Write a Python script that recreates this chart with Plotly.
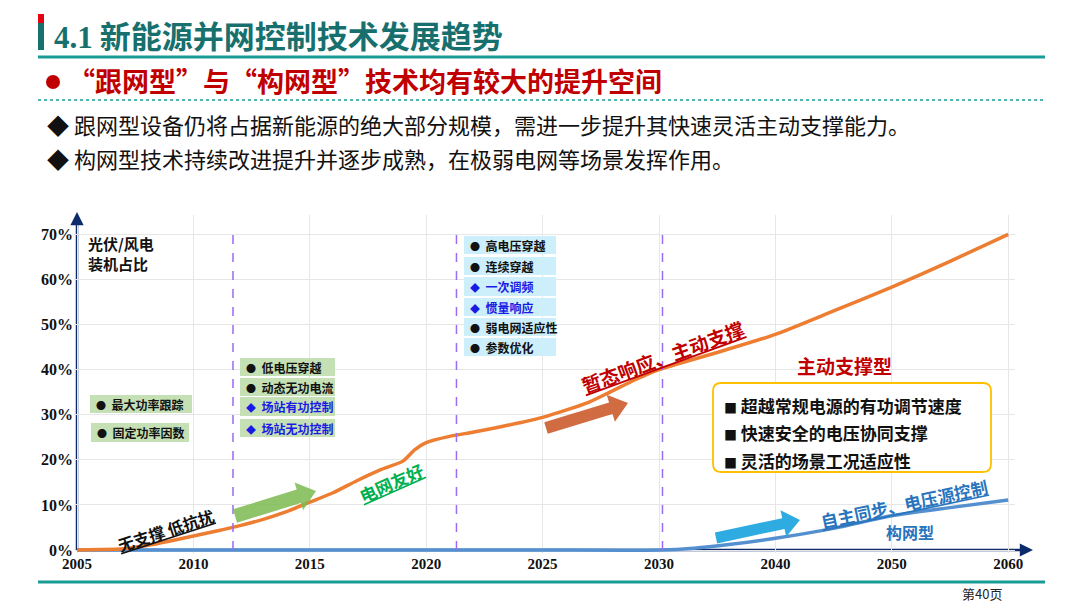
import plotly.graph_objects as go

# ---- data ----
x_years = [2005, 2010, 2015, 2020, 2025, 2030, 2040, 2050, 2060]
y_ticks = [0, 10, 20, 30, 40, 50, 60, 70]

# 主动支撑型 / 跟网型 share curve (orange)
orange_years = [2005, 2006, 2007, 2008, 2009, 2010, 2011, 2012, 2013, 2014, 2015,
                2016, 2017, 2018, 2019, 2019.5, 2020, 2021, 2022, 2023, 2024, 2025,
                2026, 2027, 2028, 2029, 2030, 2035, 2040, 2045, 2050, 2055, 2060]
orange_vals = [0, 0.1, 0.3, 1.0, 2.0, 3.1, 4.2, 5.4, 6.8, 8.5, 10.6,
               12.7, 15.3, 17.7, 19.7, 22.2, 23.8, 25.2, 26.1, 27.1, 28.2, 29.4,
               31.0, 32.8, 35.3, 37.8, 40.0, 43.8, 47.8, 53.0, 58.3, 64.0, 70.0]

# 构网型 curve (blue)
blue_years = [2005, 2010, 2015, 2020, 2025, 2030, 2033, 2036, 2040, 2045, 2050, 2055, 2060]
blue_vals = [0, 0, 0, 0, 0, 0, 0.4, 1.2, 2.6, 4.8, 7.6, 9.4, 11.1]

# stage boundaries (dashed purple lines)
era_bounds = [2011.7, 2021.3, 2030.3]

stage1_items = ["最大功率跟踪", "固定功率因数"]
stage2_items = ["低电压穿越", "动态无功电流", "场站有功控制", "场站无功控制"]
stage2_blue = [False, False, True, True]
stage3_items = ["高电压穿越", "连续穿越", "一次调频", "惯量响应", "弱电网适应性", "参数优化"]
stage3_blue = [False, False, True, True, False, False]
future_items = ["超越常规电源的有功调节速度", "快速安全的电压协同支撑", "灵活的场景工况适应性"]

bullet_lines = ["跟网型设备仍将占据新能源的绝大部分规模，需进一步提升其快速灵活主动支撑能力。",
                "构网型技术持续改进提升并逐步成熟，在极弱电网等场景发挥作用。"]


def yr_pos(year):
    # axis is 5-year steps until 2030, then 10-year steps
    if year <= 2030:
        return (year - 2005) / 5
    return 5 + (year - 2030) / 10


# pixel helpers for decorations
L, R, T, B = 74, 1015, 215, 553
X0, UX, Y0, UY = 77, 116.4, 550, 4.51


def dx(px):
    return (px - X0) / UX


def dy(py):
    return (Y0 - py) / UY


def px_paper(px, py):
    return (px - L) / (R - L), (B - py) / (B - T)


CJK = "Noto Sans CJK SC"
SERIF = "Liberation Serif"
NAVY = "#0d2a6b"

fig = go.Figure()

fig.add_trace(go.Scatter(x=[yr_pos(v) for v in blue_years], y=blue_vals, mode="lines",
                         line=dict(color="#5490d0", width=3.5, shape="spline", smoothing=0.6),
                         hoverinfo="skip"))
fig.add_trace(go.Scatter(x=[yr_pos(v) for v in orange_years], y=orange_vals, mode="lines",
                         line=dict(color="#ed7d31", width=3.5, shape="spline", smoothing=0.6),
                         hoverinfo="skip"))

shapes = []
ann = []


def pshape(kind, x0, y0, x1, y1, **kw):
    a, b = px_paper(x0, y0)
    c, d = px_paper(x1, y1)
    shapes.append(dict(type=kind, xref="paper", yref="paper", x0=a, y0=b, x1=c, y1=d, **kw))


def parrow(hx, hy, ax, ay):
    a, b = px_paper(hx, hy)
    ann.append(dict(x=a, y=b, xref="paper", yref="paper", ax=ax, ay=ay, text="", showarrow=True,
                    arrowhead=2, arrowsize=1.2, arrowwidth=2.2, arrowcolor=NAVY))


# axes lines with arrowheads
pshape("line", 77, 550, 1024, 550, line=dict(color=NAVY, width=2.5), layer="below")
pshape("line", 77, 550, 77, 222, line=dict(color=NAVY, width=2.5), layer="below")
parrow(1033, 550, -14, 0)
parrow(77, 212, 0, 14)

# dashed stage boundaries
for yb in era_bounds:
    shapes.append(dict(type="line", xref="x", yref="y", x0=yr_pos(yb), x1=yr_pos(yb),
                       y0=0, y1=70, line=dict(color="#9a6cf0", width=1.5, dash="dash")))


def item_box(x0, y0, x1, y1, text, blue, fill, size=12):
    shapes.append(dict(type="rect", xref="x", yref="y", x0=dx(x0), x1=dx(x1),
                       y0=dy(y1), y1=dy(y0), fillcolor=fill, line=dict(width=0)))
    mark = "◆" if blue else "●"
    col = "#1a1ae6" if blue else "#111111"
    ann.append(dict(x=dx(x0 + 4), y=dy((y0 + y1) / 2), xref="x", yref="y", xanchor="left",
                    yanchor="middle", showarrow=False,
                    text="<span style='font-size:10px'>" + mark + "</span>  <b>" + text + "</b>",
                    font=dict(family=CJK, size=size, color=col)))


GREEN_BOX = "#c5e0b4"
CYAN_BOX = "#cdeefb"
item_box(90, 395, 192, 413, stage1_items[0], False, GREEN_BOX)
item_box(91, 423, 189, 442, stage1_items[1], False, GREEN_BOX)
rows2 = [(358, 376), (378, 396), (397, 416), (419, 437)]
for (a, b), t, bl in zip(rows2, stage2_items, stage2_blue):
    item_box(240, a, 335, b, t, bl, GREEN_BOX)
rows3 = [(236, 254), (257, 275), (277, 296), (298, 316), (318, 336), (338, 356)]
for (a, b), t, bl in zip(rows3, stage3_items, stage3_blue):
    item_box(464, a, 556, b, t, bl, CYAN_BOX)


def block_arrow(x1, y1, x2, y2, shaft, head_w, head_l, color):
    vx, vy = x2 - x1, y2 - y1
    n = (vx ** 2 + vy ** 2) ** 0.5
    ux, uy = vx / n, vy / n
    nx, ny = -uy, ux
    bx, by = x2 - ux * head_l, y2 - uy * head_l
    pts = [(x1 + nx * shaft / 2, y1 + ny * shaft / 2),
           (bx + nx * shaft / 2, by + ny * shaft / 2),
           (bx + nx * head_w / 2, by + ny * head_w / 2),
           (x2, y2),
           (bx - nx * head_w / 2, by - ny * head_w / 2),
           (bx - nx * shaft / 2, by - ny * shaft / 2),
           (x1 - nx * shaft / 2, y1 - ny * shaft / 2)]
    path = "M " + " L ".join("%.4f,%.4f" % (dx(p[0]), dy(p[1])) for p in pts) + " Z"
    shapes.append(dict(type="path", xref="x", yref="y", path=path, fillcolor=color,
                       line=dict(width=0)))


block_arrow(235, 516, 316, 491, 14, 29, 18, "rgba(125,186,80,0.85)")
block_arrow(546, 428, 628, 403, 12, 28, 18, "rgba(205,95,50,0.92)")
block_arrow(716, 538, 800, 520, 11, 27, 17, "rgba(35,168,224,0.95)")

# rounded yellow box
def rounded_box(x0, y0, x1, y1, r):
    p = [("M", x0 + r, y0), ("L", x1 - r, y0), ("Q", x1, y0, x1, y0 + r), ("L", x1, y1 - r),
         ("Q", x1, y1, x1 - r, y1), ("L", x0 + r, y1), ("Q", x0, y1, x0, y1 - r),
         ("L", x0, y0 + r), ("Q", x0, y0, x0 + r, y0)]
    s = ""
    for seg in p:
        coords = seg[1:]
        s += seg[0] + " " + " ".join("%.4f,%.4f" % (dx(coords[i]), dy(coords[i + 1]))
                                     for i in range(0, len(coords), 2)) + " "
    return s + "Z"


shapes.append(dict(type="path", xref="x", yref="y", path=rounded_box(713, 383, 991, 472, 8),
                   fillcolor="white", line=dict(color="#ffc000", width=1.8)))
for yy, t in zip([405, 432, 460], future_items):
    ann.append(dict(x=dx(722), y=dy(yy), xref="x", yref="y", xanchor="left", yanchor="middle",
                    showarrow=False, text="<span style='font-size:13px'>■</span> <b>" + t + "</b>",
                    font=dict(family=CJK, size=17, color="#111111")))

ann.append(dict(x=dx(844), y=dy(365), xref="x", yref="y", showarrow=False, text="<b>主动支撑型</b>",
                font=dict(family=CJK, size=19, color="#c00000")))


def slant(px, py, text, angle, size, color):
    ann.append(dict(x=dx(px), y=dy(py), xref="x", yref="y", showarrow=False, textangle=angle,
                    text="<b>" + text + "</b>",
                    font=dict(family=CJK, size=size, color=color, lineposition="under")))


slant(166, 530, "无支撑 低抗扰", -18, 16, "#111111")
slant(391, 482, "电网友好", -24, 17, "#00b050")
slant(662, 356, "暂态响应、主动支撑", -20, 19, "#c00000")
slant(904, 503, "自主同步、电压源控制", -12, 17, "#2874bd")
ann.append(dict(x=dx(910), y=dy(532), xref="x", yref="y", showarrow=False, text="<b>构网型</b>",
                font=dict(family=CJK, size=16, color="#2874bd")))

# axis title
xp, yp = px_paper(86, 231)
ann.append(dict(x=xp, y=yp, xref="paper", yref="paper", xanchor="left", yanchor="top",
                showarrow=False, align="left", text="<b>光伏/风电<br>装机占比</b>",
                font=dict(family=CJK, size=15, color="#111111")))

# ---- slide header / footer ----
TEAL = "#1a9c96"
pshape("rect", 38, 14, 44, 50, fillcolor="#17706e", line=dict(width=0))
pshape("rect", 38, 14, 44, 23, fillcolor="#e60012", line=dict(width=0))
pshape("line", 38, 57, 1045, 57, line=dict(color=TEAL, width=3))
pshape("circle", 46, 75, 60, 89, fillcolor="#c00000", line=dict(width=0))
pshape("line", 38, 100, 1045, 100, line=dict(color=TEAL, width=1.5, dash="dot"))
pshape("line", 38, 582, 1045, 582, line=dict(color=TEAL, width=3))


def ptext(px, py, text, size, color, family=CJK, anchor="left"):
    a, b = px_paper(px, py)
    ann.append(dict(x=a, y=b, xref="paper", yref="paper", xanchor=anchor, yanchor="middle",
                    showarrow=False, text=text, font=dict(family=family, size=size, color=color)))


ptext(52, 34, "<b><span style='font-family:Liberation Serif'>4.1</span> 新能源并网控制技术发展趋势</b>",
      31, "#17706e")
ptext(66, 80, "<b>“跟网型”与“构网型”技术均有较大的提升空间</b>", 27, "#c00000")
for yy, t in zip([124, 158], bullet_lines):
    ptext(45, yy, "◆ " + t, 22, "#111111")
ptext(982, 593, "第40页", 13, "#222222", anchor="center")

fig.update_layout(
    template="none",
    width=1080, height=608,
    margin=dict(l=L, r=1080 - R, t=T, b=608 - B, pad=0),
    paper_bgcolor="white", plot_bgcolor="rgba(0,0,0,0)",
    showlegend=False,
    xaxis=dict(range=[dx(L), dx(R)], tickvals=[yr_pos(v) for v in x_years],
               ticktext=[str(v) for v in x_years], showgrid=True, gridcolor="#e6e6e6",
               gridwidth=1, zeroline=False, showline=False, ticks="", automargin=False,
               tickfont=dict(family=SERIF, size=15, color="#111111", weight="bold")),
    yaxis=dict(range=[dy(B), dy(T)], tickvals=y_ticks, ticktext=[str(v) + "%" for v in y_ticks],
               showgrid=True, gridcolor="#e6e6e6", gridwidth=1, zeroline=False, showline=False,
               ticks="", automargin=False,
               tickfont=dict(family=SERIF, size=16, color="#111111", weight="bold")),
    shapes=shapes,
    annotations=ann,
)

# the page body has a default 8px margin; drop it so the figure fills the window
fig.write_html("out.html", config={"displayModeBar": False},
               post_script="document.body.style.margin='0px';")
